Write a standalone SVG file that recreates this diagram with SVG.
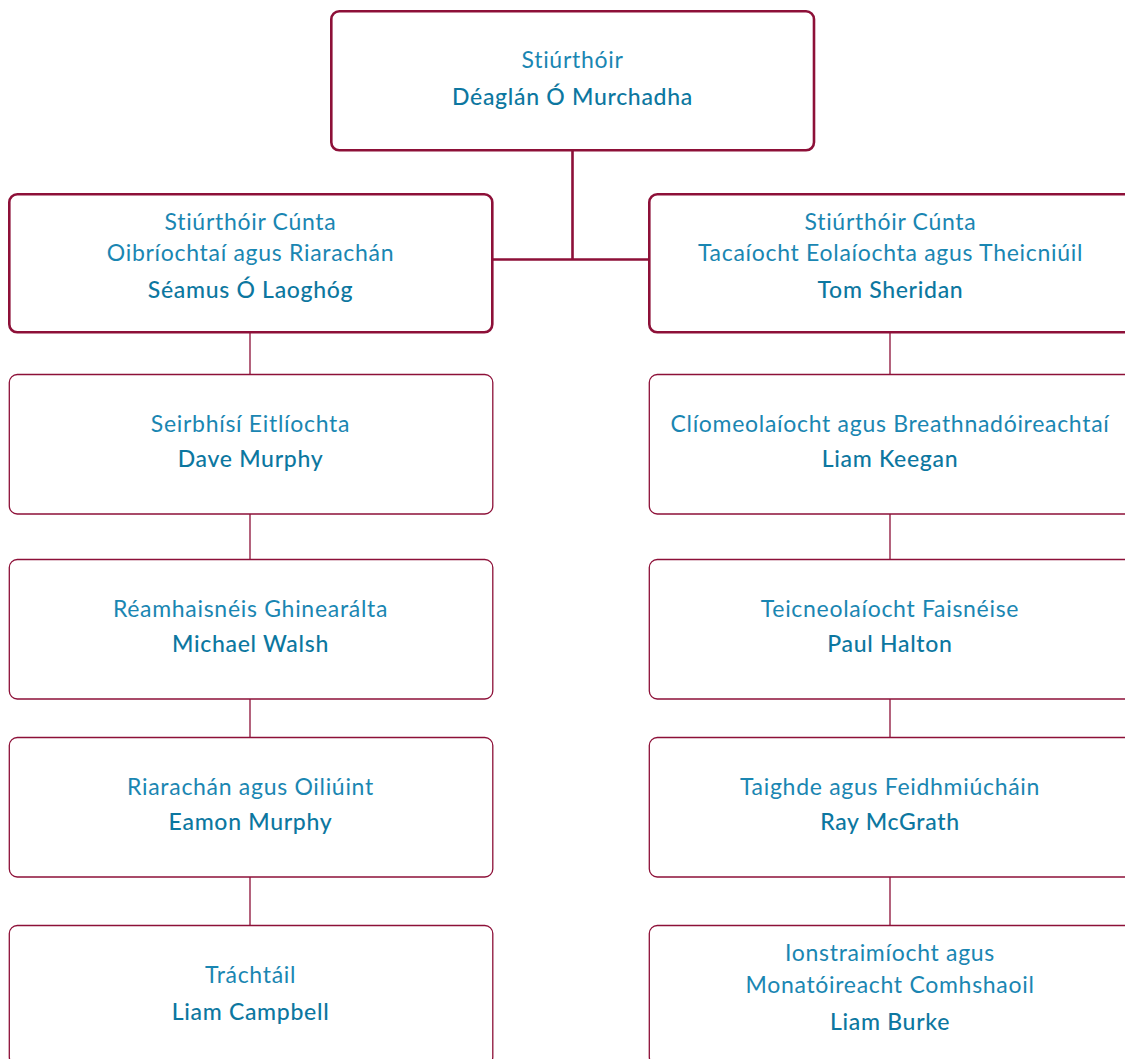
<svg xmlns="http://www.w3.org/2000/svg" width="1125" height="1059" viewBox="0 0 1125 1059">
<style>
.bx{fill:#ffffff;stroke:#8d1038;stroke-width:1.3}
.bxt{fill:#ffffff;stroke:#8d1038;stroke-width:2.6}
.cn{stroke:#8d1038;stroke-width:1.3;fill:none}
.cnt{stroke:#8d1038;stroke-width:2.6;fill:none}
text{font-family:Lato,"Noto Sans",sans-serif;font-size:23px;letter-spacing:0.7px;text-anchor:middle}
.t{fill:#1a86b2;font-weight:400}
.n{fill:#0c77a0;font-weight:500}
</style>
<rect width="1125" height="1059" fill="#ffffff"/>
<g id="connectors">
<path class="cnt" d="M572.5 150 V259.5 M492 259.5 H649.5"/>
<path class="cn" d="M250 332 V374.5 M250 514 V559.5 M250 699 V737.5 M250 877 V925.5"/>
<path class="cn" d="M890 332 V374.5 M890 514 V559.5 M890 699 V737.5 M890 877 V925.5"/>
</g>
<g id="director">
<rect class="bxt" x="331.3" y="11.3" width="482.7" height="139" rx="8"/>
<text class="t" x="572.5" y="68">Stiúrthóir</text>
<text class="n" x="572.5" y="105">Déaglán Ó Murchadha</text>
</g>
<g id="ad-operations">
<rect class="bxt" x="9.3" y="194.3" width="483" height="138" rx="8"/>
<text class="t" x="250.5" y="230">Stiúrthóir Cúnta</text>
<text class="t" x="250.5" y="261">Oibríochtaí agus Riarachán</text>
<text class="n" x="250.5" y="298">Séamus Ó Laoghóg</text>
</g>
<g id="ad-science">
<rect class="bxt" x="649.3" y="194.3" width="484" height="138" rx="8"/>
<text class="t" x="890.5" y="230">Stiúrthóir Cúnta</text>
<text class="t" x="890.5" y="261">Tacaíocht Eolaíochta agus Theicniúil</text>
<text class="n" x="890.5" y="298">Tom Sheridan</text>
</g>
<g id="aviation">
<rect class="bx" x="9.3" y="374.5" width="483.5" height="139.5" rx="8"/>
<text class="t" x="250.5" y="432">Seirbhísí Eitlíochta</text>
<text class="n" x="250.5" y="467">Dave Murphy</text>
</g>
<g id="forecasting">
<rect class="bx" x="9.3" y="559.5" width="483.5" height="139.5" rx="8"/>
<text class="t" x="250.5" y="617">Réamhaisnéis Ghinearálta</text>
<text class="n" x="250.5" y="652">Michael Walsh</text>
</g>
<g id="admin">
<rect class="bx" x="9.3" y="737.5" width="483.5" height="139.5" rx="8"/>
<text class="t" x="250.5" y="795">Riarachán agus Oiliúint</text>
<text class="n" x="250.5" y="830">Eamon Murphy</text>
</g>
<g id="commercial">
<rect class="bx" x="9.3" y="925.5" width="483.5" height="139.5" rx="8"/>
<text class="t" x="250.5" y="983">Tráchtáil</text>
<text class="n" x="250.5" y="1020">Liam Campbell</text>
</g>
<g id="climatology">
<rect class="bx" x="649.3" y="374.5" width="484" height="139.5" rx="8"/>
<text class="t" x="890" y="432">Clíomeolaíocht agus Breathnadóireachtaí</text>
<text class="n" x="890" y="467">Liam Keegan</text>
</g>
<g id="it">
<rect class="bx" x="649.3" y="559.5" width="484" height="139.5" rx="8"/>
<text class="t" x="890" y="617">Teicneolaíocht Faisnéise</text>
<text class="n" x="890" y="652">Paul Halton</text>
</g>
<g id="research">
<rect class="bx" x="649.3" y="737.5" width="484" height="139.5" rx="8"/>
<text class="t" x="890" y="795">Taighde agus Feidhmiúcháin</text>
<text class="n" x="890" y="830">Ray McGrath</text>
</g>
<g id="instrumentation">
<rect class="bx" x="649.3" y="925.5" width="484" height="139.5" rx="8"/>
<text class="t" x="890" y="961">Ionstraimíocht agus</text>
<text class="t" x="890" y="992.5">Monatóireacht Comhshaoil</text>
<text class="n" x="890" y="1030">Liam Burke</text>
</g>
</svg>
